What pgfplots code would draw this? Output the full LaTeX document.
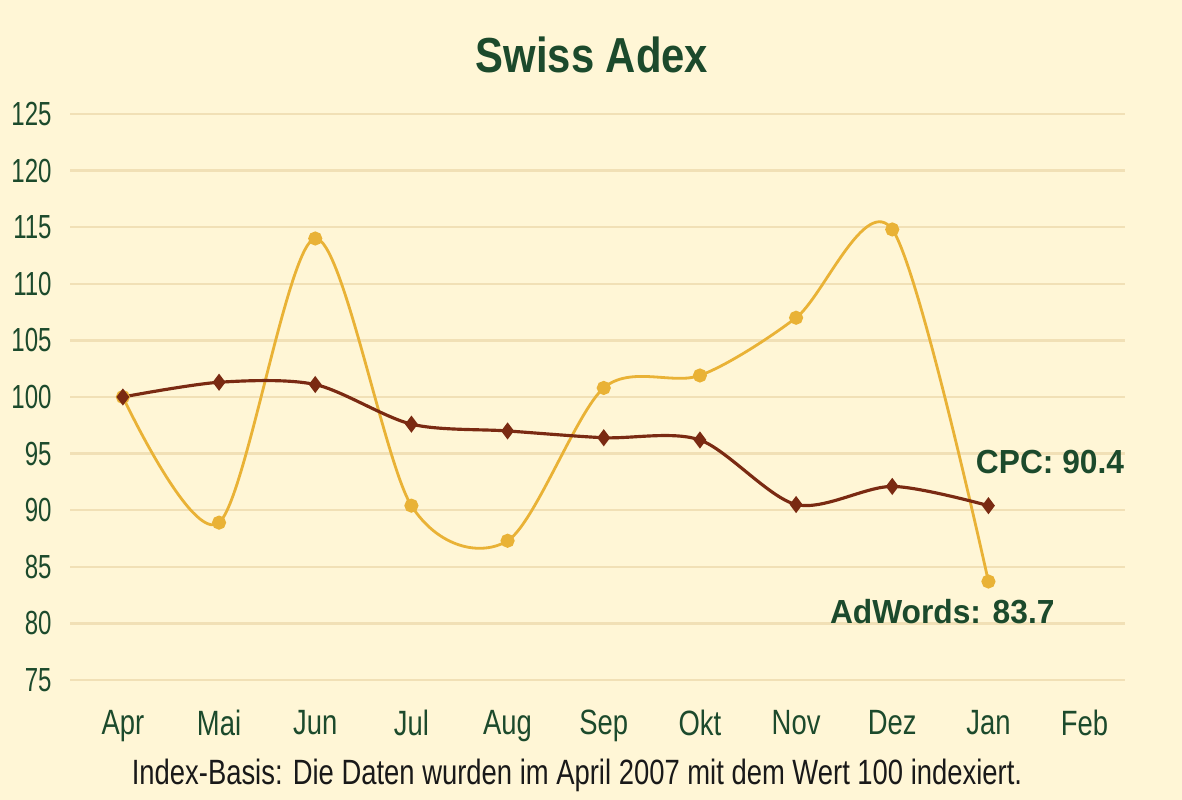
\documentclass[border=0pt]{standalone}
\usepackage{pgfplots}
\pgfplotsset{compat=1.18}
\usepackage{fontspec}
\setmainfont{Liberation Sans}
\newfontfamily\narrowfont[FakeStretch=0.78]{Liberation Sans}
\newfontfamily\ticknarrow[FakeStretch=0.72]{Liberation Sans}
\newfontfamily\widebold[FakeStretch=0.95]{Liberation Sans Bold}
\newfontfamily\titlefont[FakeStretch=0.85]{Liberation Sans Bold}
\definecolor{bg}{HTML}{FFF6D6}
\definecolor{gridc}{HTML}{F1E0B6}
\definecolor{cpc}{HTML}{7A2A12}
\definecolor{adw}{HTML}{E9B236}
\definecolor{dgreen}{HTML}{1C4A2C}
\begin{document}
\begin{tikzpicture}
\fill[bg] (0,0) rectangle (11.82cm,8cm);
\useasboundingbox (0,0) rectangle (11.82cm,8cm);
\begin{axis}[
  at={(0.70cm,1.20cm)}, anchor=south west,
  scale only axis, width=10.55cm, height=5.66cm,
  xmin=-0.55, xmax=10.42, ymin=75, ymax=125,
  axis line style={draw=none},
  major tick length=0pt,
  xtick={0,...,10},
  xticklabels={Apr,Mai,Jun,Jul,Aug,Sep,Okt,Nov,Dez,Jan,Feb},
  ytick={75,80,...,125},
  ymajorgrids, grid style={gridc, line width=0.7pt},
  xticklabel style={font=\narrowfont\fontsize{10}{12}\selectfont, text=dgreen, yshift=-0.18cm},
  yticklabel style={font=\ticknarrow\fontsize{9.5}{11}\selectfont, text=dgreen, xshift=-0.06cm},
  /pgf/number format/assume math mode=true,
  clip=false,
]
\addplot[adw, line width=0.8pt, smooth, mark=*, mark size=1.6pt, mark options={fill=adw, draw=adw}]
 coordinates {(0,100) (1,88.9) (2,114.0) (3,90.4) (4,87.3) (5,100.8) (6,101.9) (7,107.0) (8,114.8) (9,83.7)};
\addplot[cpc, line width=0.9pt, smooth, mark=diamond*, mark size=1.7pt, mark options={fill=cpc, draw=cpc}]
 coordinates {(0,100) (1,101.3) (2,101.1) (3,97.6) (4,97.0) (5,96.4) (6,96.2) (7,90.5) (8,92.1) (9,90.4)};
\node[text=dgreen, font=\widebold\fontsize{9.5}{11}\selectfont] at (axis cs:9.64,94.3) {CPC: 90.4};
\node[text=dgreen, font=\widebold\fontsize{9.5}{11}\selectfont] at (axis cs:8.52,81.0) {AdWords: 83.7};
\end{axis}
\node[text=dgreen, font=\titlefont\fontsize{14}{16}\selectfont] at (5.92cm,7.45cm) {Swiss Adex};
\node[text=black!90, font=\narrowfont\fontsize{10}{12}\selectfont] at (5.77cm,0.25cm) {Index-Basis: Die Daten wurden im April 2007 mit dem Wert 100 indexiert.};
\end{tikzpicture}
\end{document}
